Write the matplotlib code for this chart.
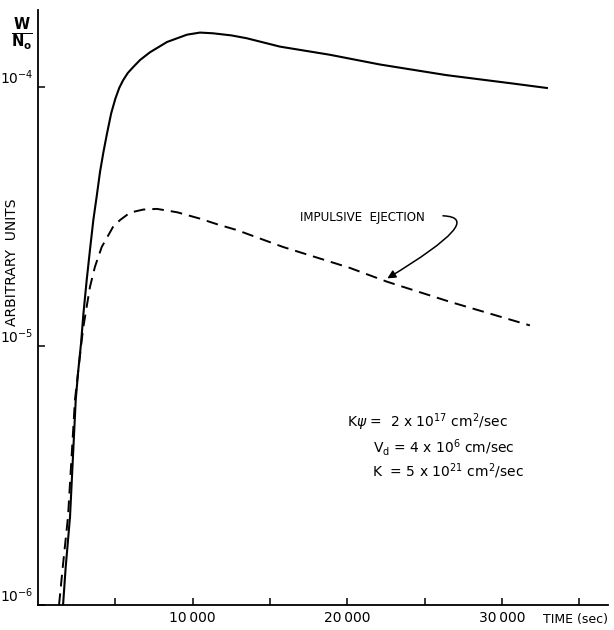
import matplotlib
matplotlib.use('Agg')
from matplotlib import pyplot as plt
from matplotlib.ticker import FixedLocator, NullLocator

plt.rcParams.update({'font.family': 'DejaVu Sans', 'font.size': 10})

# values (time in sec, W/N0 in arbitrary units)
solid_t = [1620, 1790, 2070, 2440, 2600, 2780, 2930, 3150, 3360, 3580, 3800,
           4010, 4230, 4460, 4730, 5000, 5250, 5500, 5800, 6140, 6600, 7240,
           8340, 9630, 10470, 11300, 12500, 13500, 15640, 18870, 22100, 26400,
           30700, 32900]
solid_w = [1.0e-6, 1.40e-6, 2.19e-6, 6.2e-6, 8.0e-6, 1.02e-5, 1.32e-5,
           1.8e-5, 2.35e-5, 3.07e-5, 3.8e-5, 4.7e-5, 5.6e-5, 6.6e-5, 7.9e-5,
           9.0e-5, 9.9e-5, 1.06e-4, 1.13e-4, 1.19e-4, 1.27e-4, 1.36e-4,
           1.49e-4, 1.59e-4, 1.62e-4, 1.61e-4, 1.58e-4, 1.54e-4, 1.43e-4,
           1.33e-4, 1.22e-4, 1.11e-4, 1.03e-4, 0.99e-4]

dashed_t = [1360, 1600, 1940, 2390, 2800, 2930, 3150, 3360, 3680, 4120, 4850,
            5300, 5950, 6800, 7700, 9000, 10470, 11570, 12860, 15840, 20170,
            22560, 26630, 31800]
dashed_w = [1.0e-6, 1.40e-6, 2.19e-6, 6.2e-6, 1.02e-5, 1.18e-5, 1.42e-5,
            1.69e-5, 2.02e-5, 2.41e-5, 2.88e-5, 3.06e-5, 3.27e-5, 3.36e-5,
            3.38e-5, 3.28e-5, 3.1e-5, 2.95e-5, 2.8e-5, 2.41e-5, 2.0e-5,
            1.77e-5, 1.48e-5, 1.2e-5]

x_ticks = [5000, 10000, 15000, 20000, 25000, 30000, 35000]
x_labels = ['', '10\u2009000', '', '20\u2009000', '', '30\u2009000', '']
y_ticks = [1e-6, 1e-5, 1e-4]
y_labels = [r'$10^{-6}$', r'$10^{-5}$', r'$10^{-4}$']

params = [
    (347, 422, r'K$\psi$ =  2 x 10$^{17}$ cm$^2$/sec'),
    (373, 447, r'V$_{\rm d}$ = 4 x 10$^{6}$ cm/sec'),
    (372, 471, r'K  = 5 x 10$^{21}$ cm$^2$/sec'),
]

W, H = 614, 630
fig = plt.figure(figsize=(W / 100, H / 100), dpi=100)
ax = fig.add_axes([38 / W, 25 / H, 570 / W, 595 / H])

ax.plot(solid_t, solid_w, color='black', lw=1.5)
dl, = ax.plot(dashed_t, dashed_w, color='black', lw=1.4)
dl.set_dashes((6, 3.6))

ax.set_yscale('log')
ax.set_xlim(0, 36850)
ax.set_ylim(1e-6, 1.98e-4)

for s in ['top', 'right']:
    ax.spines[s].set_visible(False)
for s in ['left', 'bottom']:
    ax.spines[s].set_linewidth(1.3)

ax.xaxis.set_major_locator(FixedLocator(x_ticks))
ax.set_xticklabels(x_labels)
ax.yaxis.set_major_locator(FixedLocator(y_ticks))
ax.yaxis.set_minor_locator(NullLocator())
ax.set_yticklabels(y_labels)
ax.tick_params(axis='both', direction='in', length=5, width=1.1, labelsize=10)
ax.tick_params(axis='y', pad=3)
ax.tick_params(axis='x', pad=4)
for lab in ax.get_yticklabels():
    lab.set_va('bottom')

# hooked arrow pointing at the dashed curve
ax.text(300 / W, 1 - 218 / H, 'IMPULSIVE  EJECTION', transform=fig.transFigure,
        ha='left', va='center', fontsize=8.6)
ax.annotate('', xy=(22430, 1.80e-5), xytext=(26000, 3.18e-5),
            arrowprops=dict(arrowstyle='-|>', color='black', lw=1.1,
                            mutation_scale=12,
                            connectionstyle='angle3,angleA=0,angleB=31'))

for x, y, s in params:
    fig.text(x / W, 1 - y / H, s, ha='left', va='center', fontsize=10)

fig.text(22 / W, 1 - 34 / H, r'$\frac{\mathbf{W}}{\mathbf{N_o}}$',
         ha='center', va='center', fontsize=15)
fig.text(12 / W, 1 - 262 / H, 'ARBITRARY  UNITS', rotation=90,
         ha='center', va='center', fontsize=10)
fig.text(543 / W, 1 - 619 / H, 'TIME (sec)', ha='left', va='center',
         fontsize=9)

fig.savefig('out.png', dpi=100)
